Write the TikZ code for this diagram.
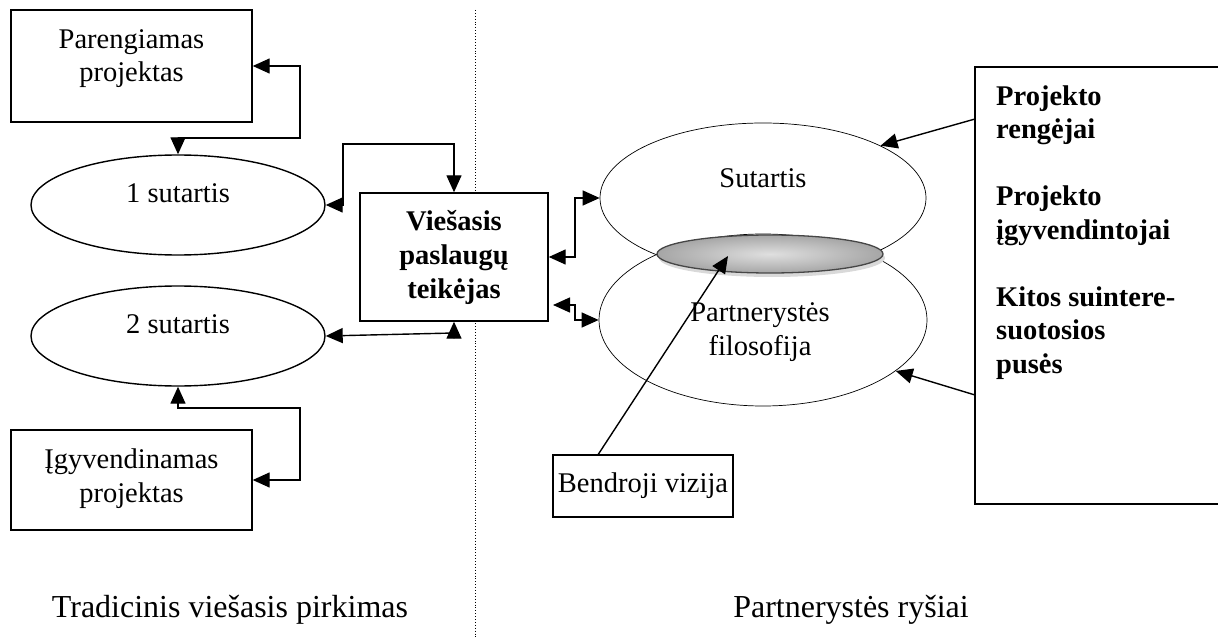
\documentclass[tikz,border=0pt]{standalone}
\usepackage{fontspec}
\setmainfont{Liberation Serif}
\usetikzlibrary{arrows.meta,shapes.geometric,calc}
\begin{document}
\begin{tikzpicture}[x=1pt,y=-1pt,
  box/.style={draw, line width=1.4pt, inner sep=0pt, fill=white},
  oval/.style={ellipse, draw, inner sep=0pt},
  txt/.style={inner sep=0pt, font=\fontsize{28.5}{33.5}\selectfont, align=center, anchor=base},
  btxt/.style={inner sep=0pt, font=\fontsize{28.5}{33.5}\selectfont\bfseries, align=center, anchor=base},
  bigtxt/.style={inner sep=0pt, font=\fontsize{32}{36}\selectfont, anchor=base},
  arr/.style={line width=1.4pt, -{Triangle[length=17pt,width=15pt]}},
  darr/.style={line width=1.4pt, {Triangle[length=17pt,width=15pt]}-{Triangle[length=17pt,width=15pt]}},
]
\useasboundingbox (0,0) rectangle (1218,639);
\clip (0,0) rectangle (1218,639);

% dotted divider
\draw[dotted, line width=0.9pt] (475,10) -- (475,639);

% left side
\node[box, minimum width=241pt, minimum height=112pt] (pp) at (131.5,66) {};
\node[txt] (ppt) at (131.5,82) {Parengiamas\\projektas};

\node[oval, line width=1.4pt, minimum width=294pt, minimum height=100pt] (e1) at (178,205) {};
\node[txt] (e1t) at (178,203) {1 sutartis};

\node[oval, line width=1.4pt, minimum width=294pt, minimum height=100pt] (e2) at (178,336) {};
\node[txt] (e2t) at (178,333) {2 sutartis};

\node[box, minimum width=241pt, minimum height=100pt] (ig) at (131.5,480) {};
\node[txt] (igt) at (131.5,502) {Įgyvendinamas\\projektas};

\node[box, minimum width=188pt, minimum height=128pt] (vp) at (454,257) {};
\node[btxt] (vpt) at (454,298) {Viešasis\\paslaugų\\teikėjas};

% right side
\node[oval, line width=0.7pt, minimum width=326pt, minimum height=150pt] (es) at (763,198) {};
\node[txt] (est) at (763,188) {Sutartis};

\node[oval, line width=0.7pt, minimum width=328pt, minimum height=172pt] (ep) at (763,320) {};
\node[txt] (ept) at (760,355) {Partnerystės\\filosofija};

\fill[gray!30] (772,258) ellipse [x radius=113pt, y radius=19pt];
\node[ellipse, minimum width=226pt, minimum height=38pt, inner sep=0pt,
      draw=gray!55!black, line width=1.3pt, inner color=gray!25, outer color=gray!70] (ge) at (770,254) {};

\node[box, minimum width=180pt, minimum height=62pt] (bv) at (643,486) {};
\node[txt] (bvt) at (643,492) {Bendroji vizija};

\node[box, minimum width=270pt, minimum height=437pt] (rb) at (1110,285.5) {};
\node[btxt, align=left, anchor=base west] (rbt) at (996,373)
  {Projekto\\rengėjai\\[33.5pt]Projekto\\įgyvendintojai\\[33.5pt]Kitos suintere-\\suotosios\\pusės};

% bottom captions
\node[bigtxt] (cap1) at (230,617) {Tradicinis viešasis pirkimas};
\node[bigtxt] (cap2) at (851,617) {Partnerystės ryšiai};

% connectors
\coordinate (k1) at (300,138);
\draw[darr] (pp.east) -| (k1) -| (e1.north);

\coordinate (k2) at (343,144);
\draw[darr] (e1.east) -| (k2) -| (vp.north);

\coordinate (k3) at (454,333);
\draw[darr] (e2.east) -- (k3) -- (vp.south);

\coordinate (k4) at (300,408);
\draw[darr] (e2.south) |- (k4) |- (ig.east);

\coordinate (k5) at (575,198);
\draw[darr] (vp.east) -| (k5) -- (es.west);

\coordinate (c6) at (553,305);
\coordinate (k6) at (575,305);
\draw[darr] (c6) -- (k6) |- (ep.west);

\coordinate (c7) at (975,119);
\draw[arr] (c7) -- (es.24);

\coordinate (c8) at (975,395);
\draw[arr] (c8) -- (ep.-21);

\coordinate (c9) at ($(bv.north west)+(46,0)$);
\coordinate (g9) at ($(ge.center)+(-42,2)$);
\draw[arr] (c9) -- (g9);
\end{tikzpicture}
\end{document}
